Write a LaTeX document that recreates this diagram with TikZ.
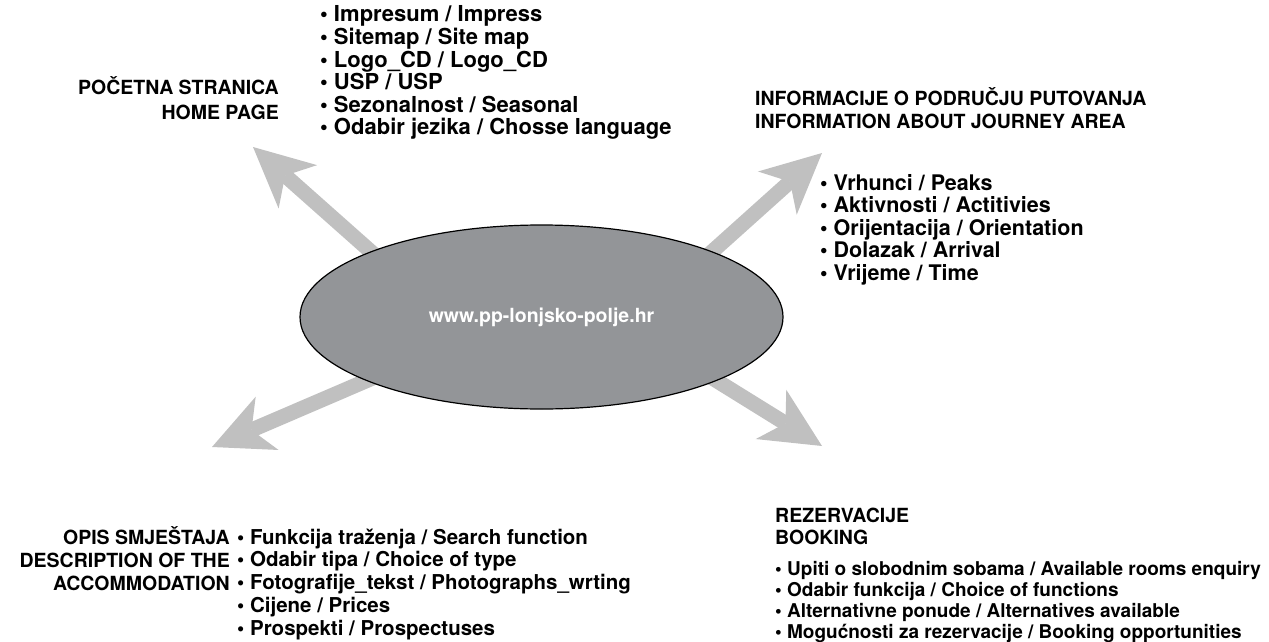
\documentclass[tikz,border=0pt]{standalone}
\usepackage{fontspec}
\setmainfont{TeX Gyre Heros}
\usetikzlibrary{arrows.meta,shapes.geometric,backgrounds}
\definecolor{arrowgray}{RGB}{192,192,192}
\definecolor{sitegray}{RGB}{147,149,152}

\begin{document}
\begin{tikzpicture}[x=1pt, y=-1pt,
	txt/.style={inner sep=0pt, font=\fontsize{20.5}{22.5}\selectfont\bfseries},
	hd/.style={inner sep=0pt, font=\fontsize{19.5}{22.5}\selectfont\bfseries},
	item/.style={txt, anchor=base west},
	headl/.style={hd, anchor=base west},
	headr/.style={hd, anchor=base east},
	flow/.style={draw=arrowgray, line width=15pt, shorten <=-16pt,
		-{Stealth[length=60pt, width=58pt, inset=17pt, line width=0pt, fill=arrowgray]}},
	site/.style={ellipse, draw, line width=1.2pt, fill=sitegray, text=white,
		minimum width=483pt, minimum height=184pt, inner sep=0pt,
		font=\fontsize{19.5}{22}\selectfont\bfseries}]
	\useasboundingbox (0,0) rectangle (1269,642);
	
	%centre
	\node[site] (site) at (541.5,317) {www.pp-lonjsko-polje.hr};
	
	%arrows
	\coordinate (home-tip) at (253,147);
	\coordinate (info-tip) at (822,153);
	\coordinate (book-tip) at (822,446);
	\coordinate (acc-tip) at (212,447);
	\begin{scope}[on background layer]
		\draw[flow] (site.159) -- (home-tip);
		\draw[flow] (site.21) -- (info-tip);
		\draw[flow] (site.-20) -- (book-tip);
		\draw[flow] (site.200) -- (acc-tip);
	\end{scope}
	
	%home page
	\node[headr] (home-1) at (279,95) {POČETNA STRANICA};
	\node[headr] (home-2) at (279,119) {HOME PAGE};
	\foreach \t [count=\i] in {Impresum / Impress, Sitemap / Site map, Logo\_CD / Logo\_CD,
		USP / USP, Sezonalnost / Seasonal, Odabir jezika / Chosse language}
	\node[item, font=\fontsize{22}{22.5}\selectfont\bfseries] (home-item-\i) at (320, -0.5+22.5*\i) {\textbullet\ \t};
	
	%journey area
	\node[headl] (info-1) at (755,105) {INFORMACIJE O PODRUČJU PUTOVANJA};
	\node[headl] (info-2) at (755,128) {INFORMATION ABOUT JOURNEY AREA};
	\foreach \t [count=\i] in {Vrhunci / Peaks, Aktivnosti / Actitivies,
		Orijentacija / Orientation, Dolazak / Arrival, Vrijeme / Time}
	\node[item, font=\fontsize{21.5}{22.5}\selectfont\bfseries] (info-item-\i) at (820, 167.5+22.5*\i) {\textbullet\ \t};
	
	%accommodation
	\node[headr] (acc-1) at (230,544) {OPIS SMJEŠTAJA};
	\node[headr] (acc-2) at (230,567) {DESCRIPTION OF THE};
	\node[headr] (acc-3) at (230,590) {ACCOMMODATION};
	\foreach \t [count=\i] in {Funkcija traženja / Search function, Odabir tipa / Choice of type,
		Fotografije\_tekst / Photographs\_wrting, Cijene / Prices, Prospekti / Prospectuses}
	\node[item] (acc-item-\i) at (237, 521.2+22.8*\i) {\textbullet\ \t};
	
	%booking
	\node[headl] (book-1) at (775,522) {REZERVACIJE};
	\node[headl] (book-2) at (775,544) {BOOKING};
	\foreach \t [count=\i] in {Upiti o slobodnim sobama / Available rooms enquiry,
		Odabir funkcija / Choice of functions, Alternativne ponude / Alternatives available,
		Mogućnosti za rezervacije / Booking opportunities}
	\node[item, font=\fontsize{19}{22}\selectfont\bfseries] (book-item-\i) at (775, 554+21*\i) {\textbullet\ \t};
\end{tikzpicture}
\end{document}
